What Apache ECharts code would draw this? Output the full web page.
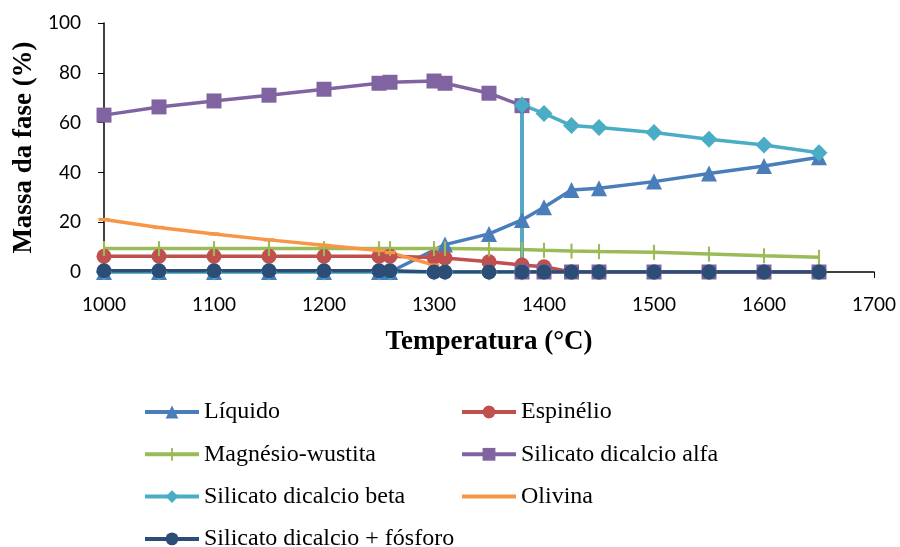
<!DOCTYPE html>
<html>
<head>
<meta charset="utf-8">
<script src="https://cdn.jsdelivr.net/npm/echarts@6/dist/echarts.min.js"></script>
<style>
html, body { margin: 0; padding: 0; background: #fff; }
#chart { width: 900px; height: 547px; }
</style>
</head>
<body>
<div id="chart"></div>
<script>
// temperaturas (°C) e massas (%)
var tempLiquido = [1000, 1050, 1100, 1150, 1200, 1250, 1260, 1310, 1350, 1380, 1400, 1425, 1450, 1500, 1550, 1600, 1650];
var liquido = [0, 0, 0, 0, 0, 0, 0, 11, 15.3, 20.9, 26, 32.9, 33.6, 36.3, 39.6, 42.6, 46.1];

var tempEspinelio = [1000, 1050, 1100, 1150, 1200, 1250, 1260, 1300, 1310, 1350, 1380, 1400, 1425, 1450, 1500, 1550, 1600, 1650];
var espinelio = [6.3, 6.3, 6.3, 6.3, 6.3, 6.3, 6.3, 5.8, 5.6, 4.1, 2.8, 2.1, 0, 0, 0, 0, 0, 0];

var tempMagnesio = [1000, 1050, 1100, 1150, 1200, 1250, 1260, 1300, 1310, 1350, 1380, 1400, 1425, 1450, 1500, 1550, 1600, 1650];
var magnesio = [9.4, 9.4, 9.4, 9.4, 9.4, 9.4, 9.4, 9.4, 9.4, 9.2, 9.0, 8.7, 8.4, 8.2, 7.9, 7.2, 6.5, 5.9];

var tempAlfa = [1000, 1050, 1100, 1150, 1200, 1250, 1260, 1300, 1310, 1350, 1380, 1380, 1400, 1425, 1450, 1500, 1550, 1600, 1650];
var alfa = [63, 66.3, 68.7, 71, 73.4, 75.8, 76.2, 76.7, 75.8, 71.8, 66.8, 0, 0, 0, 0, 0, 0, 0, 0];

var tempBeta = [1000, 1050, 1100, 1150, 1200, 1250, 1260, 1300, 1310, 1350, 1380, 1380, 1400, 1425, 1450, 1500, 1550, 1600, 1650];
var beta = [0, 0, 0, 0, 0, 0, 0, 0, 0, 0, 0, 67.1, 63.7, 58.8, 58, 56, 53.3, 51, 47.9];

var tempOlivina = [1000, 1050, 1100, 1150, 1200, 1250, 1260, 1300];
var olivina = [21.1, 17.9, 15.3, 12.9, 10.7, 8.6, 7.8, 2.8];

var tempFosforo = [1000, 1050, 1100, 1150, 1200, 1250, 1260, 1300, 1310, 1350, 1380, 1400, 1425, 1450, 1500, 1550, 1600, 1650];
var fosforo = [0.5, 0.5, 0.5, 0.5, 0.5, 0.5, 0.5, 0, 0, 0, 0, 0, 0, 0, 0, 0, 0, 0];

var xTicks = [1000, 1100, 1200, 1300, 1400, 1500, 1600, 1700];
var yTicks = [0, 20, 40, 60, 80, 100];

var nomes = ['Líquido', 'Espinélio', 'Magnésio-wustita', 'Silicato dicalcio alfa',
	'Silicato dicalcio beta', 'Olivina', 'Silicato dicalcio + fósforo'];

// marcadores de traço (caixa 14x14 para não deformar na legenda)
var tracoVertical = 'path://M6,0h2v14h-2zM0,7L0,7M14,7L14,7';
var tracoHorizontal = 'path://M2,5.5h10v3h-10zM0,0L0,0M14,14L14,14';

function pares(xs, ys) {
	return xs.map(function (x, i) { return [x, ys[i]]; });
}

function serie(nome, xs, ys, cor, simbolo, tamanho) {
	return {
		name: nome,
		type: 'line',
		data: pares(xs, ys),
		symbol: simbolo,
		symbolSize: tamanho,
		showAllSymbol: true,
		lineStyle: { color: cor, width: 3.5 },
		itemStyle: { color: cor },
		animation: false
	};
}

var myChart = echarts.init(document.getElementById('chart'));
var serif = '"Liberation Serif", "Times New Roman", serif';
var sans = 'Lato, "Open Sans", sans-serif';

// legenda em duas colunas, uma entrada por componente
var legendas = nomes.map(function (nome, i) {
	var col = i % 2, row = Math.floor(i / 2);
	return {
		left: col === 0 ? 138 : 455,
		top: 395 + row * 42.3,
		itemWidth: 54,
		itemHeight: 16,
		lineStyle: { width: 4 },
		textStyle: { fontFamily: serif, fontSize: 24, color: '#000' },
		data: [nome]
	};
});

myChart.setOption({
	grid: { left: 104, right: 26, top: 23, bottom: 275 },
	xAxis: {
		type: 'value',
		min: xTicks[0],
		max: xTicks[xTicks.length - 1],
		interval: 100,
		name: 'Temperatura (°C)',
		nameLocation: 'middle',
		nameGap: 57,
		nameTextStyle: { fontFamily: serif, fontWeight: 'bold', fontSize: 27, color: '#000' },
		axisLine: { lineStyle: { color: '#000', width: 1.5 } },
		axisTick: { lineStyle: { color: '#000' }, length: 6 },
		axisLabel: { fontFamily: sans, fontSize: 19, color: '#000', margin: 23, formatter: function (v) { return String(v); } },
		splitLine: { show: false }
	},
	yAxis: {
		type: 'value',
		min: yTicks[0],
		max: yTicks[yTicks.length - 1],
		interval: 20,
		name: 'Massa da fase (%)',
		nameLocation: 'middle',
		nameGap: 50,
		nameTextStyle: { fontFamily: serif, fontWeight: 'bold', fontSize: 27, color: '#000' },
		axisLine: { show: true, lineStyle: { color: '#000', width: 1.5 } },
		axisTick: { show: true, lineStyle: { color: '#000' }, length: 6 },
		axisLabel: { fontFamily: sans, fontSize: 19, color: '#000', margin: 23 },
		splitLine: { show: false }
	},
	legend: legendas,
	series: [
		serie(nomes[0], tempLiquido, liquido, '#4A7EBB', 'triangle', 16),
		serie(nomes[1], tempEspinelio, espinelio, '#C0504D', 'circle', 15),
		serie(nomes[2], tempMagnesio, magnesio, '#9BBB59', tracoVertical, 15),
		serie(nomes[3], tempAlfa, alfa, '#8064A2', 'rect', 15),
		serie(nomes[4], tempBeta, beta, '#4BACC6', 'diamond', 17),
		serie(nomes[5], tempOlivina, olivina, '#F79646', tracoHorizontal, 15),
		serie(nomes[6], tempFosforo, fosforo, '#2C4D75', 'circle', 15)
	]
});
</script>
</body>
</html>
